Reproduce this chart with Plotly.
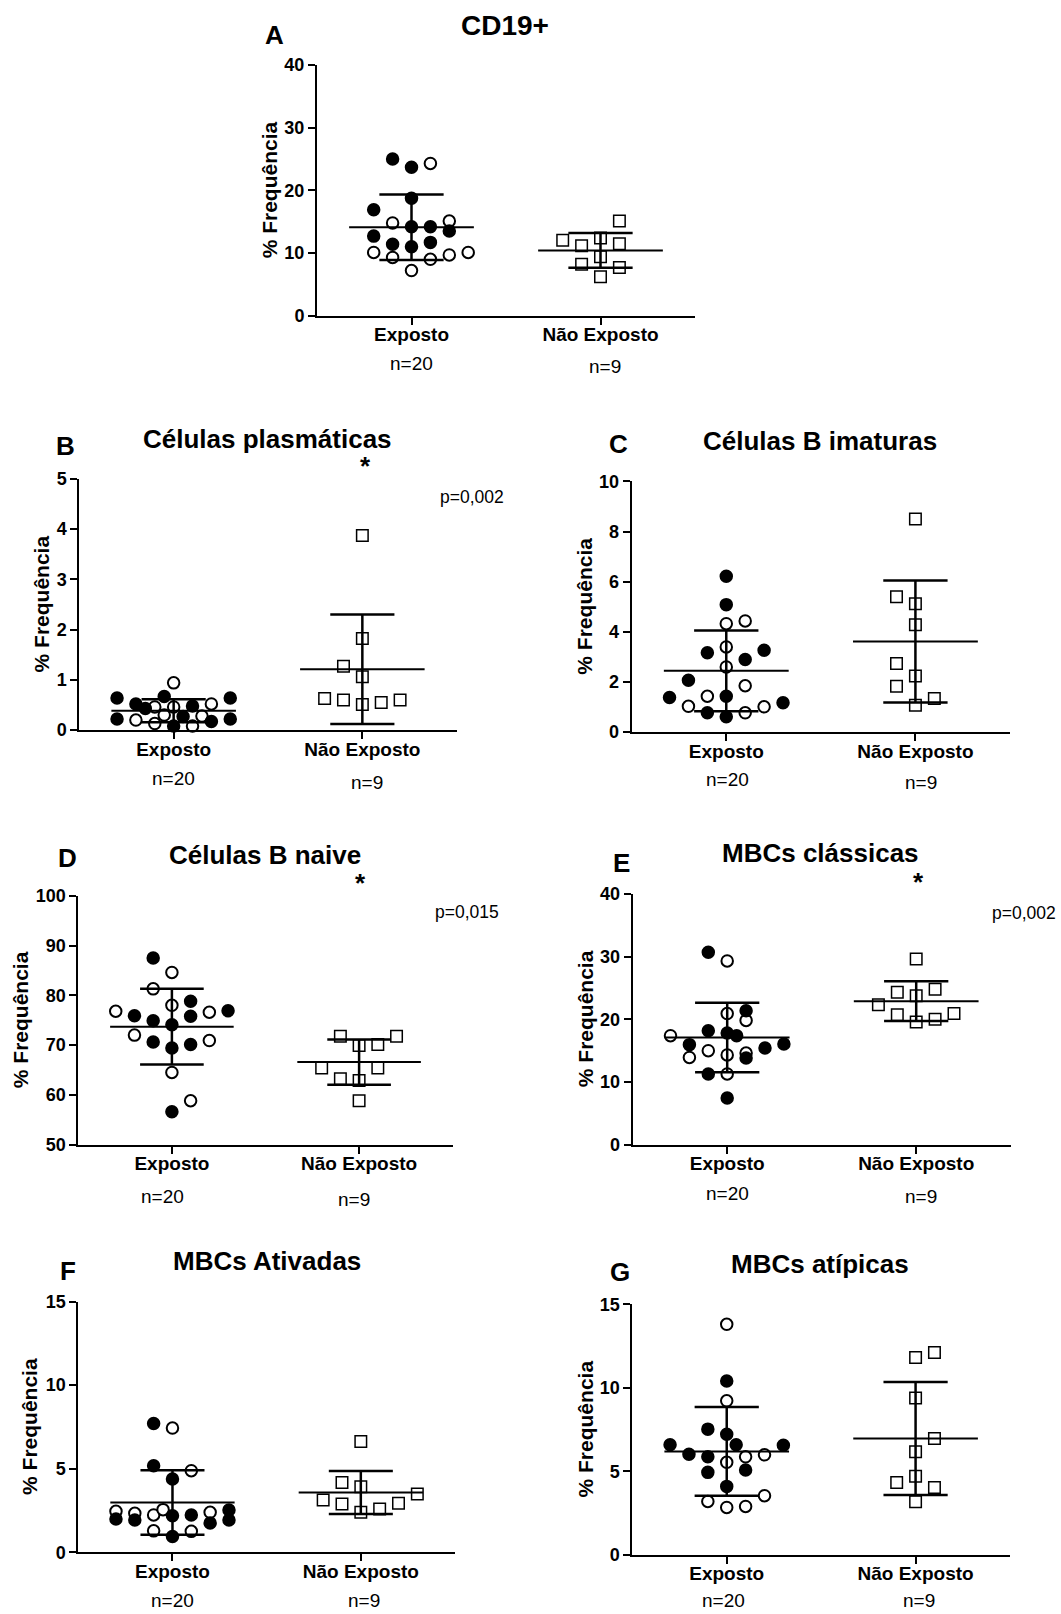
import numpy as np
import plotly.graph_objects as go

# ---------------- data ----------------
categories = ["Exposto", "Não Exposto"]
group_n = ["n=20", "n=9"]
panel_letters = ["A", "B", "C", "D", "E", "F", "G"]
panel_titles = ["CD19+", "Células plasmáticas", "Células B imaturas", "Células B naive",
                "MBCs clássicas", "MBCs Ativadas", "MBCs atípicas"]
y_ticks = [[0, 10, 20, 30, 40], [0, 1, 2, 3, 4, 5], [0, 2, 4, 6, 8, 10],
           [50, 60, 70, 80, 90, 100], [0, 10, 20, 30, 40], [0, 5, 10, 15], [0, 5, 10, 15]]
significance = [None, "*", None, "*", "*", None, None]
p_values = [None, "p=0,002", None, "p=0,015", "p=0,002", None, None]
y_title = "% Frequência"

# values (%) ; *_col = swarm column index of each point
A_exp_filled = [25.0, 23.7, 18.75, 16.9, 14.2, 14.2, 13.5, 12.7, 11.4, 11.0, 11.7]
A_exp_filled_col = [-1, 0, 0, -2, 0, 1, 2, -2, -1, 0, 1]
A_exp_open = [24.3, 14.8, 15.1, 10.1, 9.3, 9.0, 9.7, 10.1, 7.2]
A_exp_open_col = [1, -1, 2, -2, -1, 1, 2, 3, 0]
A_ne = [12.05, 11.15, 12.4, 15.1, 11.5, 8.2, 9.4, 7.7, 6.2]
A_ne_col = [-2, -1, 0, 1, 1, -1, 0, 1, 0]

B_exp_filled = [0.64, 0.22, 0.52, 0.43, 0.67, 0.48, 0.27, 0.08, 0.17, 0.64, 0.22]
B_exp_filled_col = [-3, -3, -2, -1.5, -0.5, 1, 0.5, 0, 2, 3, 3]
B_exp_open = [0.94, 0.52, 0.20, 0.13, 0.46, 0.30, 0.46, 0.08, 0.28]
B_exp_open_col = [0, 2, -2, -1, -1, -0.5, 0, 1, 1.5]
B_ne = [3.87, 1.82, 1.27, 1.06, 0.63, 0.60, 0.51, 0.55, 0.60]
B_ne_col = [0, 0, -1, 0, -2, -1, 0, 1, 2]

C_exp_filled = [6.21, 5.08, 3.16, 3.26, 2.89, 2.06, 1.37, 1.42, 1.16, 0.76, 0.60]
C_exp_filled_col = [0, 0, -1, 2, 1, -2, -3, 0, 3, -1, 0]
C_exp_open = [4.32, 4.43, 3.39, 2.59, 1.84, 1.42, 1.02, 0.76, 1.00]
C_exp_open_col = [0, 1, 0, 0, 1, -1, -2, 1, 2]
C_ne = [8.5, 5.39, 5.12, 4.28, 2.73, 2.23, 1.82, 1.33, 1.06]
C_ne_col = [0, -1, 0, 0, -1, 0, -1, 1, 0]

D_exp_filled = [87.5, 78.8, 75.9, 74.9, 74.1, 75.8, 76.9, 70.6, 69.4, 70.1, 56.6]
D_exp_filled_col = [-1, 1, -2, -1, 0, 1, 3, -1, 0, 1, 0]
D_exp_open = [84.6, 81.3, 78.0, 76.8, 76.6, 72.0, 70.9, 64.5, 58.8]
D_exp_open_col = [0, -1, 0, -3, 2, -2, 2, 0, 1]
D_ne = [71.75, 71.75, 69.9, 70.1, 65.4, 65.4, 63.25, 62.85, 58.8]
D_ne_col = [-1, 2, 0, 1, -2, 1, -1, 0, 0]

E_exp_filled = [30.7, 21.35, 18.17, 17.8, 17.37, 15.94, 15.4, 16.04, 13.8, 11.26, 7.44]
E_exp_filled_col = [-1, 1, -1, 0, 0.5, -2, 2, 3, 1, -1, 0]
E_exp_open = [29.3, 20.9, 19.8, 17.37, 14.97, 13.9, 14.3, 14.6, 11.26]
E_exp_open_col = [0, 0, 1, -3, -1, -2, 0, 1, 0]
E_ne = [29.6, 24.3, 24.8, 23.75, 22.3, 20.7, 20.9, 19.55, 20.0]
E_ne_col = [0, -1, 1, 0, -2, -1, 2, 0, 1]

F_exp_filled = [7.71, 5.18, 4.38, 1.99, 1.93, 2.19, 2.23, 1.75, 2.53, 1.93, 0.94]
F_exp_filled_col = [-1, -1, 0, -3, -2, 0, 1, 2, 3, 3, 0]
F_exp_open = [7.43, 4.88, 2.45, 2.33, 2.23, 2.55, 2.39, 1.28, 1.25]
F_exp_open_col = [0, 1, -3, -2, -1, -0.5, 2, -1, 1]
F_ne = [6.63, 4.18, 3.92, 3.13, 2.89, 2.93, 3.49, 2.39, 2.59]
F_ne_col = [0, -1, 0, -2, -1, 2, 3, 0, 1]

G_exp_filled = [10.41, 7.52, 7.22, 6.58, 6.58, 6.56, 6.02, 5.86, 4.93, 5.07, 4.09]
G_exp_filled_col = [0, -1, 0, -3, 0.5, 3, -2, -1, -1, 1, 0]
G_exp_open = [13.8, 9.22, 5.86, 5.98, 5.53, 3.53, 3.19, 2.83, 2.89]
G_exp_open_col = [0, 0, 1, 2, 0, 2, -1, 0, 1]
G_ne = [12.11, 11.81, 9.38, 6.96, 6.16, 4.33, 4.69, 4.03, 3.17]
G_ne_col = [1, 0, 0, 1, 0, -1, 0, 1, 0]

panels = [
    (A_exp_filled, A_exp_filled_col, A_exp_open, A_exp_open_col, A_ne, A_ne_col),
    (B_exp_filled, B_exp_filled_col, B_exp_open, B_exp_open_col, B_ne, B_ne_col),
    (C_exp_filled, C_exp_filled_col, C_exp_open, C_exp_open_col, C_ne, C_ne_col),
    (D_exp_filled, D_exp_filled_col, D_exp_open, D_exp_open_col, D_ne, D_ne_col),
    (E_exp_filled, E_exp_filled_col, E_exp_open, E_exp_open_col, E_ne, E_ne_col),
    (F_exp_filled, F_exp_filled_col, F_exp_open, F_exp_open_col, F_ne, F_ne_col),
    (G_exp_filled, G_exp_filled_col, G_exp_open, G_exp_open_col, G_ne, G_ne_col),
]

# ---------------- layout (pixels) ----------------
W, H = 1061, 1614
FONT = "Arial, Liberation Sans, sans-serif"
boxes = [  # x_left, x_right, y_top, y_bottom of plot area
    (317, 695, 64, 315),
    (79.3, 456.7, 478.3, 730),
    (631.7, 1010, 481, 731.7),
    (78.3, 452.7, 896, 1145),
    (632.7, 1010.7, 894, 1145),
    (78.3, 455, 1302.3, 1553.3),
    (632.3, 1010, 1305, 1555.7),
]
letter_pos = [(274, 34), (65, 445), (618, 443), (67, 858), (621, 863), (68, 1272), (620, 1273)]
title_pos = [(505, 24), (267, 438), (820, 440), (265, 855), (820, 853), (267, 1262), (820, 1265)]
title_size = [28, 26, 26, 26, 26, 26, 26]
star_pos = [None, (365, 468), None, (360, 885), (918, 884), None, None]
p_pos = [None, (472, 497), None, (467, 912), (1024, 913), None, None]
ytitle_x = [269, 41, 585, 20, 585, 30, 585]
n_dy = [(48, 51), (48, 52), (48, 51), (52, 55), (49, 52), (48, 48), (46, 46)]
n_dx = [(0, 4), (0, 5), (1, 6), (-9, -5), (0, 5), (0, 3), (-3, 3)]

SLOT = 0.1      # swarm column width (category units)
MEAN_HW = 0.33  # half width of mean line
CAP_HW = 0.17   # half width of SD caps

# vertical calibration of the rendered page (empirical)
VK, VC = 0.989, 807.0


def Y(y):
    return VC + (y - VC) / VK


def px(x, y):
    return x / W, 1 - Y(y) / H


fig = go.Figure()
annotations = []
layout = {}

for i, (ef, efc, eo, eoc, ne, nec) in enumerate(panels):
    sfx = "" if i == 0 else str(i + 1)
    xa, ya = "x" + sfx, "y" + sfx
    x0, x1, y0, y1 = boxes[i]
    yt = y_ticks[i]

    layout["xaxis" + sfx] = dict(
        domain=[x0 / W, x1 / W], range=[-0.5, 1.5], anchor=ya,
        tickvals=[0, 1], ticktext=categories, showline=True, linewidth=2, linecolor="black",
        ticks="outside", ticklen=7, tickwidth=2, tickcolor="black", showgrid=False, zeroline=False,
        ticklabelstandoff=-6,
        tickfont=dict(family=FONT, size=19, color="black", weight="bold"), fixedrange=True)
    layout["yaxis" + sfx] = dict(
        domain=[1 - Y(y1) / H, 1 - Y(y0) / H], range=[yt[0], yt[-1]], anchor=xa,
        tickvals=yt, showline=True, linewidth=2, linecolor="black",
        ticks="outside", ticklen=7, tickwidth=2, tickcolor="black", showgrid=False, zeroline=False,
        tickfont=dict(family=FONT, size=18, color="black", weight="bold"), fixedrange=True)

    # points: open circles, filled circles, open squares
    fig.add_trace(go.Scatter(
        x=[0 + c * SLOT for c in eoc], y=eo, mode="markers", xaxis=xa, yaxis=ya, cliponaxis=False,
        marker=dict(symbol="circle", size=11.5, color="white", line=dict(color="black", width=2)),
        showlegend=False, hoverinfo="y"))
    fig.add_trace(go.Scatter(
        x=[0 + c * SLOT for c in efc], y=ef, mode="markers", xaxis=xa, yaxis=ya, cliponaxis=False,
        marker=dict(symbol="circle", size=11.5, color="black", line=dict(color="black", width=2)),
        showlegend=False, hoverinfo="y"))
    fig.add_trace(go.Scatter(
        x=[1 + c * SLOT for c in nec], y=ne, mode="markers", xaxis=xa, yaxis=ya, cliponaxis=False,
        marker=dict(symbol="square", size=11.5, color="white", line=dict(color="black", width=1.5)),
        showlegend=False, hoverinfo="y"))

    # mean +- SD
    groups = [np.array(ef + eo, dtype=float), np.array(ne, dtype=float)]
    mx, my, sx, sy = [], [], [], []
    for c, vals in enumerate(groups):
        m = vals.mean()
        s = vals.std(ddof=1)
        mx += [c - MEAN_HW, c + MEAN_HW, None]
        my += [m, m, None]
        sx += [c, c, None, c - CAP_HW, c + CAP_HW, None, c - CAP_HW, c + CAP_HW, None]
        sy += [m - s, m + s, None, m + s, m + s, None, m - s, m - s, None]
    fig.add_trace(go.Scatter(x=mx, y=my, mode="lines", xaxis=xa, yaxis=ya, cliponaxis=False,
                             line=dict(color="black", width=2), showlegend=False, hoverinfo="skip"))
    fig.add_trace(go.Scatter(x=sx, y=sy, mode="lines", xaxis=xa, yaxis=ya, cliponaxis=False,
                             line=dict(color="black", width=2.5), showlegend=False, hoverinfo="skip"))

    # texts
    lx, ly = px(*letter_pos[i])
    annotations.append(dict(x=lx, y=ly, xref="paper", yref="paper", text=panel_letters[i],
                            showarrow=False, xanchor="center", yanchor="middle",
                            font=dict(family=FONT, size=26, color="black", weight="bold")))
    tx, ty = px(*title_pos[i])
    annotations.append(dict(x=tx, y=ty, xref="paper", yref="paper", text=panel_titles[i],
                            showarrow=False, xanchor="center", yanchor="middle",
                            font=dict(family=FONT, size=title_size[i], color="black", weight="bold")))
    yx, yy = px(ytitle_x[i], (y0 + y1) / 2)
    annotations.append(dict(x=yx, y=yy, xref="paper", yref="paper", text=y_title, textangle=-90,
                            showarrow=False, xanchor="center", yanchor="middle",
                            font=dict(family=FONT, size=21, color="black", weight="bold")))
    for c in range(2):
        cx = x0 + (x1 - x0) * (c + 0.5) / 2.0 + n_dx[i][c]
        nx, ny = px(cx, y1 + n_dy[i][c])
        annotations.append(dict(x=nx, y=ny, xref="paper", yref="paper", text=group_n[c],
                                showarrow=False, xanchor="center", yanchor="middle",
                                font=dict(family=FONT, size=19, color="black")))
    if significance[i]:
        sx_, sy_ = px(*star_pos[i])
        annotations.append(dict(x=sx_, y=sy_, xref="paper", yref="paper", text=significance[i],
                                showarrow=False, xanchor="center", yanchor="middle", yshift=2,
                                font=dict(family=FONT, size=26, color="black", weight="bold")))
    if p_values[i]:
        qx, qy = px(*p_pos[i])
        annotations.append(dict(x=qx, y=qy, xref="paper", yref="paper", text=p_values[i],
                                showarrow=False, xanchor="center", yanchor="middle",
                                font=dict(family=FONT, size=17.5, color="black")))

fig.update_layout(
    width=W, height=H, autosize=False,
    margin=dict(l=0, r=0, t=0, b=0),
    paper_bgcolor="white", plot_bgcolor="white",
    annotations=annotations, showlegend=False,
    font=dict(family=FONT, color="black"),
    **layout)

fig.write_html("out.html", config={"displayModeBar": False},
               post_script="document.body.style.margin='0px';document.body.style.overflow='hidden';")
